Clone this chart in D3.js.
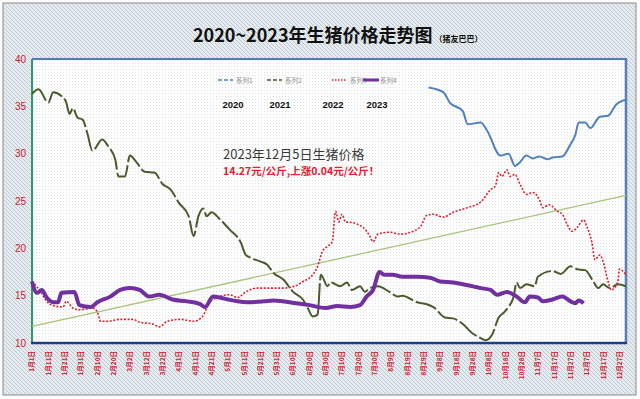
<!DOCTYPE html>
<html>
<head>
<meta charset="utf-8">
<script src="https://cdn.jsdelivr.net/npm/d3@7"></script>
<style>
  html, body { margin: 0; padding: 0; background: #fff; }
  svg { display: block; }
</style>
</head>
<body>
<div id="chart"></div>
<script>
// tick labels along the bottom (every 10 days)
var dayLabels = ["1月1日","1月11日","1月21日","1月31日","2月10日","2月20日","3月2日","3月12日","3月22日",
  "4月1日","4月11日","4月21日","5月1日","5月11日","5月21日","5月31日","6月10日","6月20日","6月30日",
  "7月10日","7月20日","7月30日","8月9日","8月19日","8月29日","9月8日","9月18日","9月28日",
  "10月8日","10月18日","10月28日","11月7日","11月17日","11月27日","12月7日","12月17日","12月27日"];
var yTicks = [10, 15, 20, 25, 30, 35, 40];
var seriesNames = ["系列1", "系列2", "系列3", "系列4"];
var yearNames = ["2020", "2021", "2022", "2023"];

// [day of year, price]
var series1 = [[243,37.0],[252,36.5],[256,35.4],[264,34.5],[267,33.1],[275,33.3],[279,32.4],[287,29.8],
  [292,30.0],[296,28.7],[299,29.1],[303,29.8],[307,29.5],[311,29.7],[316,29.4],[319,29.6],[325,29.7],
  [330,31.0],[333,32.0],[335,33.3],[339,33.3],[342,32.7],[348,33.9],[353,34.0],[358,35.2],[362,35.6],[364,35.7]];
var series2 = [[0,36.3],[4,36.8],[10,35.4],[13,36.5],[18,36.1],[21,35.4],[23,34.2],[25,34.8],[28,33.8],
  [31,33.6],[34,32.1],[37,30.3],[43,31.5],[47,30.7],[51,29.4],[53,27.6],[57,27.6],[60,29.8],[64,29.1],
  [69,28.1],[75,28.0],[80,26.8],[85,26.2],[90,24.8],[96,23.4],[99,21.3],[102,23.4],[105,24.2],[107,23.4],
  [110,23.8],[115,23.1],[121,22.0],[128,20.6],[131,19.3],[134,19.0],[140,18.6],[144,18.3],[148,17.4],
  [154,16.7],[160,15.4],[166,14.6],[169,13.7],[172,12.8],[175,13.0],[177,17.2],[178,17.0],[181,16.0],
  [183,16.4],[189,16.0],[193,16.4],[196,15.6],[201,16.0],[204,15.4],[207,15.8],[212,16.0],[219,15.4],
  [224,14.9],[227,15.0],[236,14.3],[242,14.1],[246,13.8],[253,12.7],[258,12.6],[264,12.0],[270,11.0],
  [273,10.7],[278,10.3],[282,10.9],[286,12.7],[289,13.2],[292,13.8],[295,14.8],[297,16.4],[299,15.8],
  [303,16.2],[308,16.0],[310,17.0],[319,17.6],[324,17.3],[330,18.1],[334,17.8],[339,17.7],[344,16.5],
  [347,15.8],[350,16.2],[354,15.8],[359,16.2],[364,16.0]];
var series3 = [[0,16.5],[5,15.5],[9,14.4],[12,14.0],[19,13.8],[21,14.4],[25,13.7],[29,13.5],[37,13.7],
  [40,13.3],[42,12.3],[46,12.3],[54,12.5],[62,12.5],[66,12.2],[74,12.0],[78,11.7],[83,12.3],[91,12.5],
  [99,12.3],[104,12.7],[109,14.3],[115,14.9],[121,15.1],[126,14.8],[131,15.4],[138,15.8],[146,15.8],
  [154,15.8],[161,16.0],[166,16.5],[172,17.2],[175,18.1],[178,19.7],[181,20.2],[184,20.7],[186,23.9],
  [188,22.8],[190,23.6],[192,22.8],[197,22.7],[200,22.5],[203,22.2],[207,21.3],[209,20.7],[212,21.5],
  [219,21.7],[226,21.5],[232,21.7],[238,22.3],[242,23.5],[246,23.6],[252,23.3],[258,23.8],[267,24.3],
  [275,24.9],[281,26.2],[284,26.6],[286,28.0],[288,27.6],[291,28.3],[293,27.6],[296,27.8],[299,26.8],
  [303,25.7],[307,25.9],[311,25.1],[313,24.3],[317,24.6],[322,23.9],[325,23.6],[328,22.5],[331,21.8],
  [334,22.2],[338,23.0],[340,22.3],[343,20.7],[345,18.8],[348,19.3],[350,18.6],[353,16.5],[355,15.6],
  [359,16.5],[360,17.8],[364,17.2]];
var series4 = [[0,16.5],[3,15.3],[6,15.6],[9,14.8],[13,14.3],[16,14.3],[18,15.3],[26,15.4],[29,14.0],
  [36,13.8],[40,14.3],[48,14.9],[54,15.6],[60,15.8],[66,15.6],[72,14.9],[78,15.1],[86,14.6],[95,14.4],
  [103,14.1],[106,13.8],[111,14.9],[115,14.8],[120,14.6],[126,14.4],[132,14.3],[142,14.4],[148,14.5],
  [162,14.2],[170,14.0],[180,13.7],[187,13.9],[195,13.8],[201,14.0],[205,14.9],[209,15.6],[213,17.5],
  [216,17.2],[221,17.2],[227,17.0],[236,17.0],[244,16.9],[250,16.5],[258,16.4],[267,16.1],[275,15.8],
  [281,15.6],[285,15.1],[291,15.4],[297,14.9],[302,14.3],[305,14.9],[310,14.8],[313,14.4],[319,14.6],
  [325,14.9],[330,14.4],[333,14.2],[335,14.5],[338,14.2]];
// linear trend line end points
var trend = [[0,11.75],[364,25.6]];

var width = 640, height = 399;
var plot = {left: 32, right: 626, top: 59, bottom: 343};

var svg = d3.select("#chart").append("svg")
  .attr("width", width).attr("height", height);

var defs = svg.append("defs");
var hatch = defs.append("pattern").attr("id", "hatch")
  .attr("width", 4).attr("height", 4).attr("patternUnits", "userSpaceOnUse");
hatch.append("rect").attr("width", 4).attr("height", 4).attr("fill", "#e6ebef");
hatch.append("path").attr("d", "M0,0L4,4M-1,3L1,5M3,-1L5,1").attr("stroke", "#bfcad4").attr("stroke-width", 1);
var dots = defs.append("pattern").attr("id", "dots")
  .attr("width", 3).attr("height", 3).attr("patternUnits", "userSpaceOnUse");
dots.append("rect").attr("width", 3).attr("height", 3).attr("fill", "#ffffff");
dots.append("rect").attr("width", 1).attr("height", 1).attr("fill", "#dfe3e8");

// backgrounds
svg.append("rect").attr("width", width).attr("height", height).attr("fill", "#fff");
svg.append("rect").attr("x", 3).attr("y", 3).attr("width", 633).attr("height", 392)
  .attr("fill", "url(#hatch)").attr("stroke", "#8a8a8a").attr("stroke-width", 1);
svg.append("rect").attr("x", plot.left).attr("y", plot.top)
  .attr("width", plot.right - plot.left).attr("height", plot.bottom - plot.top)
  .attr("fill", "url(#dots)");

// scales
var x = d3.scaleLinear().domain([0, 364]).range([plot.left, plot.right]);
var y = d3.scaleLinear().domain([10, 40]).range([plot.bottom, plot.top]);

// title
var title = svg.append("text").attr("x", 193).attr("y", 42)
  .attr("font-family", "'Noto Sans CJK SC', sans-serif").attr("font-weight", "bold")
  .attr("fill", "#111");
title.append("tspan").attr("font-size", 18).text("2020~2023年生猪价格走势图");
title.append("tspan").attr("font-size", 8).attr("dx", 2).text("（猪友巴巴）");

// plot borders
svg.append("line").attr("x1", plot.left).attr("x2", plot.right + 1).attr("y1", plot.top).attr("y2", plot.top)
  .attr("stroke", "#4f7db8").attr("stroke-width", 2);
svg.append("line").attr("x1", plot.right).attr("x2", plot.right).attr("y1", plot.top).attr("y2", plot.bottom + 1)
  .attr("stroke", "#5a7fb0").attr("stroke-width", 2.5);
svg.append("line").attr("x1", plot.left).attr("x2", plot.left).attr("y1", plot.top).attr("y2", plot.bottom)
  .attr("stroke", "#2f9a63").attr("stroke-width", 2);
svg.append("line").attr("x1", plot.left - 1).attr("x2", plot.right + 1).attr("y1", plot.bottom).attr("y2", plot.bottom)
  .attr("stroke", "#1f3d8c").attr("stroke-width", 2.5);

// Y axis labels
svg.append("g").selectAll("text").data(yTicks).enter().append("text")
  .attr("x", 26).attr("y", d => y(d) + 3.5)
  .attr("text-anchor", "end")
  .attr("font-family", "'Liberation Sans', Arial, sans-serif").attr("font-size", 10)
  .attr("fill", "#d0202e")
  .text(d => d);

// X axis labels, rotated
svg.append("g").selectAll("text").data(dayLabels).enter().append("text")
  .attr("transform", (d, i) => "translate(" + (x(i * 10) + 2.4) + ",351)rotate(-90)")
  .attr("text-anchor", "end")
  .attr("font-family", "'Noto Sans CJK SC', sans-serif").attr("font-size", 6.5).attr("font-weight", "bold")
  .attr("fill", "#d0202e")
  .text(d => d);

var line = d3.line().x(d => x(d[0])).y(d => y(d[1])).curve(d3.curveMonotoneX);

// trend line
svg.append("path").datum(trend).attr("d", d3.line().x(d => x(d[0])).y(d => y(d[1])))
  .attr("fill", "none").attr("stroke", "#a9c27c").attr("stroke-width", 1.3);

var styles = [
  {color: "#4f81bd", w: 2, dash: null, legendDash: "4,2"},
  {color: "#4a5a2c", w: 2, dash: "22,3", legendDash: "4,2"},
  {color: "#e0202e", w: 1.6, dash: "2,1.6", legendDash: "1.5,1.5"},
  {color: "#7030a0", w: 4, dash: null, legendDash: null}
];
[series1, series2, series3, series4].forEach(function (s, i) {
  svg.append("path").datum(s).attr("d", line)
    .attr("fill", "none").attr("stroke", styles[i].color)
    .attr("stroke-width", styles[i].w)
    .attr("stroke-linejoin", "round")
    .attr("stroke-dasharray", styles[i].dash);
});

// legend
var legendX = [218, 267, 332, 363];
var legend = svg.append("g").selectAll("g").data(seriesNames).enter().append("g")
  .attr("transform", (d, i) => "translate(" + legendX[i] + ",80)");
legend.append("line").attr("x1", 0).attr("x2", (d, i) => i == 3 ? 16 : 15).attr("y1", 0).attr("y2", 0)
  .attr("stroke", (d, i) => styles[i].color)
  .attr("stroke-width", (d, i) => i == 3 ? 3 : 1.6)
  .attr("stroke-dasharray", (d, i) => styles[i].legendDash);
legend.append("text").attr("x", (d, i) => i == 3 ? 17 : 18).attr("y", 2.5)
  .attr("font-family", "'Noto Sans CJK SC', sans-serif").attr("font-size", 6.5)
  .attr("fill", "#8c8c8c").text(d => d);

// year labels
var yearX = [233, 280, 333, 377];
svg.append("g").selectAll("text").data(yearNames).enter().append("text")
  .attr("x", (d, i) => yearX[i]).attr("y", 108).attr("text-anchor", "middle")
  .attr("font-family", "'Liberation Sans', Arial, sans-serif").attr("font-size", 9.5).attr("font-weight", "bold")
  .attr("fill", "#111").text(d => d);

// note
svg.append("text").attr("x", 223).attr("y", 159)
  .attr("font-family", "'Noto Sans CJK SC', sans-serif").attr("font-size", 13)
  .attr("fill", "#3a3a3a").text("2023年12月5日生猪价格");
svg.append("text").attr("x", 223).attr("y", 174.5)
  .attr("font-family", "'Noto Sans CJK SC', sans-serif").attr("font-size", 10.5).attr("font-weight", "bold")
  .attr("fill", "#e0202e").text("14.27元/公斤,上涨0.04元/公斤！");
</script>
</body>
</html>
